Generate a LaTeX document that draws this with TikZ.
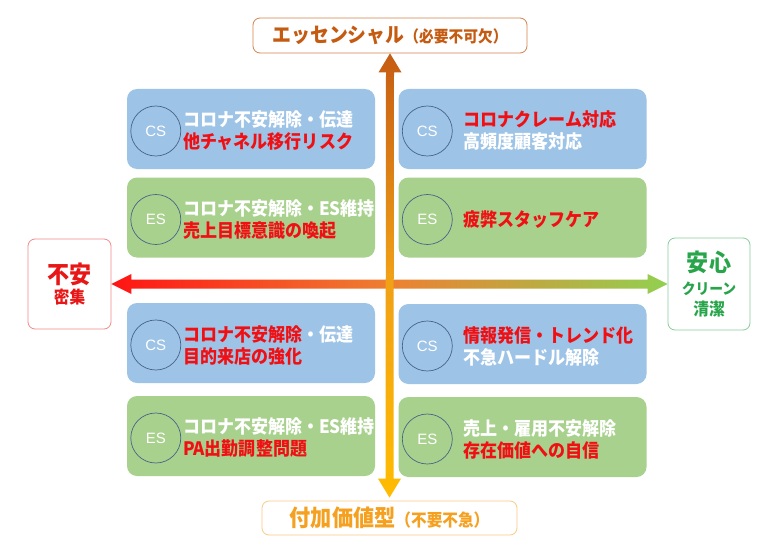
\documentclass[tikz,border=0pt]{standalone}
\usepackage{fontspec}
\setmainfont{Noto Sans CJK JP}[FakeStretch=0.92]
\newfontfamily\badgefont{Liberation Sans}
\usetikzlibrary{calc}
\definecolor{csblue}{RGB}{157,195,230}
\definecolor{esgreen}{RGB}{169,209,142}
\definecolor{alertred}{RGB}{240,16,20}
\definecolor{ovalline}{RGB}{70,100,135}
\definecolor{essbrown}{RGB}{197,90,17}
\definecolor{addorange}{RGB}{245,160,30}
\definecolor{anxred}{RGB}{232,22,22}
\definecolor{safegreen}{RGB}{40,165,75}
\definecolor{arrowred}{RGB}{255,20,20}
\definecolor{arroworange}{RGB}{237,128,49}
\definecolor{arrowgreen}{RGB}{146,208,80}
\definecolor{vtop}{RGB}{197,92,20}
\definecolor{vmid}{RGB}{240,160,22}
\definecolor{vbottom}{RGB}{255,188,0}
\tikzset{
  quadcell/.style={rounded corners=10pt, minimum width=248pt, minimum height=80pt, inner sep=0pt},
  badge/.style={circle, draw=ovalline, line width=0.7pt, minimum size=50pt, inner sep=0pt, text=white, font=\badgefont\fontsize{15}{16}\selectfont},
  celltxt/.style={anchor=west, align=left, text=white, inner sep=0pt, font=\bfseries\fontsize{18.5}{22}\selectfont},
  axislabel/.style={draw, rounded corners=7pt, line width=0.8pt, fill=white, align=center, inner sep=0pt, font=\bfseries}
}
\newcommand{\putcell}[5]{\node[quadcell, fill=#4] (#1) at (#2,#3) {};
  \node[badge] (#1badge) at ($(#1.west)+(29,2)$) {#5};}
\newcommand{\puttext}[4]{\node[celltxt] (#1) at ($(#2.west)+(#3,2)$) {#4};}
\newcommand{\hot}[1]{\textcolor{alertred}{#1}}

\begin{document}
\begin{tikzpicture}[x=1pt,y=-1pt]
  \fill[white] (0,0) rectangle (782,551);
  \useasboundingbox (0,0) rectangle (782,551);

  \node[axislabel, draw=essbrown!75, text=essbrown, minimum width=274pt, minimum height=35pt] (essential) at (390,35.5)
    {\fontsize{20.5}{20}\selectfont エッセンシャル\fontsize{16}{16}\selectfont（必要不可欠）};
  \node[axislabel, draw=addorange!55, text=addorange, minimum width=255pt, minimum height=34pt] (addval) at (389.5,518)
    {\fontsize{23}{23}\selectfont 付加価値型\fontsize{17}{17}\selectfont（不要不急）};
  \node[axislabel, draw=anxred!50, text=anxred, minimum width=83pt, minimum height=90pt] (anxious) at (69.5,284)
    {\fontsize{24}{25}\selectfont 不安\\[3pt]\fontsize{17}{20}\selectfont 密集};
  \node[axislabel, draw=safegreen!55, text=safegreen, minimum width=82pt, minimum height=92pt] (safe) at (709,284)
    {\fontsize{24}{24}\selectfont 安心\\[7pt]\fontsize{15}{20}\selectfont クリーン\\[5pt]\fontsize{17}{20}\selectfont 清潔};

  \shade[left color=arrowred, right color=arrowgreen, middle color=arroworange]
    (anxious.east) -- ++(20,-10) -- ++(0,5.5) -- ($(safe.west)+(-20,-4.5)$) -- ++(0,-5.5) -- (safe.west)
    -- ++(-20,10) -- ++(0,-5.5) -- ($(anxious.east)+(20,4.5)$) -- ++(0,5.5) -- cycle;
  \shade[top color=vtop, bottom color=vbottom, middle color=vmid]
    (essential.south) -- ++(11.5,19) -- ++(-7.5,0) -- ($(addval.north)+(4,-22)$) -- ++(7.5,0) -- ($(addval.north)+(0,-3)$)
    -- ++(-11.5,-19) -- ++(7.5,0) -- ($(essential.south)+(-4,19)$) -- ++(-7.5,0) -- cycle;

  \putcell{csLT}{251}{129}{csblue}{CS}
  \putcell{esLT}{251}{217.5}{esgreen}{ES}
  \putcell{csLB}{251}{343}{csblue}{CS}
  \putcell{esLB}{251}{436}{esgreen}{ES}
  \putcell{csRT}{522.5}{129}{csblue}{CS}
  \putcell{esRT}{522.5}{217.5}{esgreen}{ES}
  \putcell{csRB}{522.5}{344}{csblue}{CS}
  \putcell{esRB}{522.5}{437}{esgreen}{ES}

  \puttext{csLTtxt}{csLT}{56}{コロナ不安解除・伝達\\\hot{他チャネル移行リスク}}
  \puttext{esLTtxt}{esLT}{56}{コロナ不安解除・ES維持\\\hot{売上目標意識の喚起}}
  \puttext{csLBtxt}{csLB}{56}{\hot{コロナ不安解除}・伝達\\\hot{目的来店の強化}}
  \puttext{esLBtxt}{esLB}{56}{コロナ不安解除・ES維持\\\hot{PA出勤調整問題}}
  \puttext{csRTtxt}{csRT}{65}{\hot{コロナクレーム対応}\\高頻度顧客対応}
  \puttext{esRTtxt}{esRT}{65}{\hot{疲弊スタッフケア}}
  \puttext{csRBtxt}{csRB}{65}{\hot{情報発信・トレンド化}\\不急ハードル解除}
  \puttext{esRBtxt}{esRB}{65}{売上・雇用不安解除\\\hot{存在価値への自信}}
\end{tikzpicture}
\end{document}
